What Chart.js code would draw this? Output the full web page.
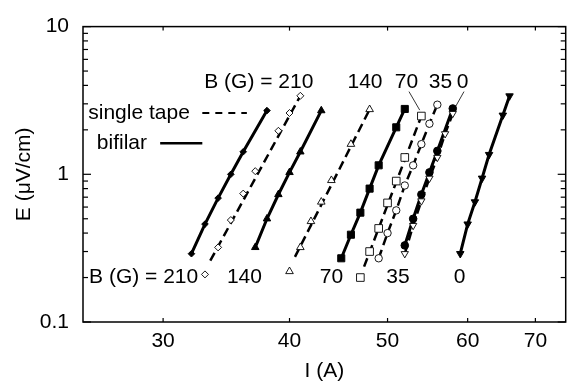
<!DOCTYPE html>
<html>
<head>
<meta charset="utf-8">
<script src="https://cdn.jsdelivr.net/npm/chart.js@4"></script>
<style>
  html, body { margin: 0; padding: 0; background: #fff; }
  #wrap { width: 572px; height: 384px; }
</style>
</head>
<body>
<div id="wrap"><canvas id="ejChart"></canvas></div>
<script>
// E-I curves, current I (A) vs electric field E (uV/cm), for fields B (G)
const xTicks = [30, 40, 50, 60, 70];
const yTicks = [0.1, 0.2, 0.3, 0.4, 0.5, 0.6, 0.7, 0.8, 0.9, 1, 2, 3, 4, 5, 6, 7, 8, 9, 10];
const yLabels = [0.1, 1, 10];

// bifilar (filled markers, solid lines)
const biI210 = [32, 33, 34, 35, 36, 38];
const biE210 = [0.29, 0.46, 0.69, 1.0, 1.42, 2.7];
const biI140 = [37, 38, 39, 40, 41, 43];
const biE140 = [0.32, 0.5, 0.73, 1.03, 1.42, 2.7];
const biI70 = [45, 46, 47, 48, 49, 51, 52];
const biE70 = [0.27, 0.39, 0.55, 0.8, 1.15, 2.08, 2.77];
const biI35 = [52, 53, 54, 55, 56, 58];
const biE35 = [0.33, 0.5, 0.73, 1.03, 1.44, 2.79];
const biI0 = [59, 60, 61, 62, 63, 65, 66];
const biE0 = [0.29, 0.46, 0.65, 0.94, 1.36, 2.51, 3.39];

// single tape (open markers, dashed lines)
const stI210 = [33, 34, 35, 36, 37, 39, 40, 41];
const stE210 = [0.21, 0.32, 0.49, 0.74, 1.05, 1.97, 2.6, 3.4];
const stI140 = [40, 41, 42, 43, 44, 46, 48];
const stE140 = [0.22, 0.32, 0.48, 0.65, 0.91, 1.6, 2.75];
const stI70 = [47, 48, 49, 50, 51, 52, 54];
const stE70 = [0.2, 0.3, 0.43, 0.64, 0.9, 1.3, 2.48];
const stI35 = [49, 50, 51, 52, 53, 54, 55, 56];
const stE35 = [0.27, 0.4, 0.57, 0.84, 1.15, 1.6, 2.2, 2.96];
const stI0 = [52, 53, 54, 55, 56, 57, 58];
const stE0 = [0.29, 0.45, 0.66, 0.94, 1.3, 1.88, 2.58];

// dashed fit lines for single tape 210 / 140 / 70 (end points)
const fitI210 = [33.4, 41], fitE210 = [0.26, 3.4];
const fitI140 = [40.5, 48], fitE140 = [0.276, 2.75];
const fitI70 = [47.4, 54], fitE70 = [0.237, 2.48];

const FONT = "'Liberation Sans', Arial, Helvetica, sans-serif";
const pts = (I, E) => I.map((v, k) => ({x: v, y: E[k]}));
const dash = [9, 5];

function bifilar(I, E, style, r, rot) {
  return {
    data: pts(I, E), showLine: true, borderColor: '#000', borderWidth: 3,
    pointStyle: style, pointRadius: r, pointRotation: rot || 0,
    pointBackgroundColor: '#000', pointBorderColor: '#000', pointBorderWidth: 1, order: 0
  };
}
function single(I, E, style, r, rot, withLine) {
  return {
    data: pts(I, E), showLine: !!withLine, borderColor: '#000', borderWidth: 2.5, borderDash: dash,
    pointStyle: style, pointRadius: r, pointRotation: rot || 0,
    pointBackgroundColor: '#fff', pointBorderColor: '#000', pointBorderWidth: 0.9, order: 0
  };
}
function fit(I, E) {
  return {
    data: pts(I, E), showLine: true, borderColor: '#000', borderWidth: 2.5, borderDash: dash,
    pointRadius: 0, order: 1
  };
}

// text notes placed in data coordinates (I, E)
const notes = [
  {text: 'B (G) = 210', i: 37.3, e: 4.22},
  {text: '140', i: 47.5, e: 4.22},
  {text: '70', i: 52.2, e: 4.22},
  {text: '35', i: 56.4, e: 4.22},
  {text: '0', i: 59.3, e: 4.22},
  {text: 'B (G) = 210', i: 28.7, e: 0.201},
  {text: '140', i: 36.1, e: 0.201},
  {text: '70', i: 44.0, e: 0.201},
  {text: '35', i: 51.2, e: 0.201},
  {text: '0', i: 58.9, e: 0.201},
  {text: 'single tape', i: 25.3, e: 2.6, align: 'left'},
  {text: 'bifilar', i: 25.8, e: 1.62, align: 'left'}
];

const overlay = {
  id: 'overlay',
  afterDatasetsDraw(chart) {
    const {ctx, chartArea: a, scales: {x, y}} = chart;
    const seg = (x1, y1, x2, y2) => { ctx.beginPath(); ctx.moveTo(x1, y1); ctx.lineTo(x2, y2); ctx.stroke(); };
    const P = (i, e) => [x.getPixelForValue(i), y.getPixelForValue(e)];
    ctx.save();
    ctx.strokeStyle = '#000';
    ctx.lineWidth = 1.5;
    ctx.strokeRect(a.left, a.top, a.right - a.left, a.bottom - a.top);
    ctx.lineWidth = 1.2;
    yTicks.forEach(v => {
      const py = y.getPixelForValue(v);
      const len = yLabels.includes(v) ? 8 : 5;
      seg(a.left, py, a.left + len, py);
      seg(a.right, py, a.right - len, py);
    });
    xTicks.forEach(v => {
      const px = x.getPixelForValue(v);
      seg(px, a.bottom, px, a.bottom - 4);
      seg(px, a.top, px, a.top + 4);
    });
    // legend samples
    ctx.lineWidth = 2;
    ctx.setLineDash([7, 6]);
    seg(...P(32.8, 2.6), ...P(36.3, 2.6));
    ctx.setLineDash([]);
    ctx.lineWidth = 2.5;
    seg(...P(29.8, 1.62), ...P(32.8, 1.62));
    // leader lines from labels
    ctx.lineWidth = 0.8;
    seg(...P(52.5, 3.63), ...P(53.8, 2.72));
    seg(...P(59.5, 3.63), ...P(58.4, 2.89));
    // texts
    ctx.fillStyle = '#000';
    ctx.font = '21px ' + FONT;
    ctx.textBaseline = 'middle';
    notes.forEach(n => {
      ctx.textAlign = n.align || 'center';
      ctx.fillText(n.text, ...P(n.i, n.e));
    });
    ctx.restore();
  }
};

new Chart(document.getElementById('ejChart'), {
  type: 'scatter',
  data: {
    datasets: [
      bifilar(biI210, biE210, 'rectRot', 3.3),
      single(stI210, stE210, 'rectRot', 3.5),
      bifilar(biI140, biE140, 'triangle', 4.3),
      single(stI140, stE140, 'triangle', 4.4),
      bifilar(biI70, biE70, 'rect', 5),
      single(stI70, stE70, 'rect', 5.4),
      single(stI35, stE35, 'circle', 3.7, 0, true),
      single(stI0, stE0, 'triangle', 4.2, 180, true),
      bifilar(biI35, biE35, 'circle', 3.8),
      bifilar(biI0, biE0, 'triangle', 4.3, 180),
      fit(fitI210, fitE210),
      fit(fitI140, fitE140),
      fit(fitI70, fitE70)
    ]
  },
  options: {
    responsive: true,
    maintainAspectRatio: false,
    animation: false,
    layout: { padding: { top: 18, right: 4, left: 0, bottom: 0 } },
    plugins: { legend: { display: false }, tooltip: { enabled: false } },
    scales: {
      x: {
        type: 'logarithmic', min: 25, max: 75,
        afterBuildTicks: s => { s.ticks = xTicks.map(v => ({value: v})); },
        afterFit: s => { s.height = 62; },
        grid: { display: false, drawTicks: false },
        border: { display: false },
        ticks: { callback: v => String(v), autoSkip: false, maxRotation: 0, padding: 7,
                 color: '#000', font: { family: FONT, size: 21 } },
        title: { display: true, text: 'I (A)', color: '#000', padding: 0,
                 font: { family: FONT, size: 21 } }
      },
      y: {
        type: 'logarithmic', min: 0.1, max: 10,
        afterBuildTicks: s => { s.ticks = yTicks.map(v => ({value: v})); },
        afterFit: s => { s.width = 83; },
        grid: { display: false, drawTicks: false },
        border: { display: false },
        ticks: { callback: v => yLabels.includes(v) ? String(v) : '', autoSkip: false, padding: 14,
                 color: '#000', font: { family: FONT, size: 21 } },
        title: { display: true, text: 'E (\u03bcV/cm)', color: '#000', padding: { top: 12, bottom: 0 },
                 font: { family: FONT, size: 21 } }
      }
    }
  },
  plugins: [overlay]
});
</script>
</body>
</html>
